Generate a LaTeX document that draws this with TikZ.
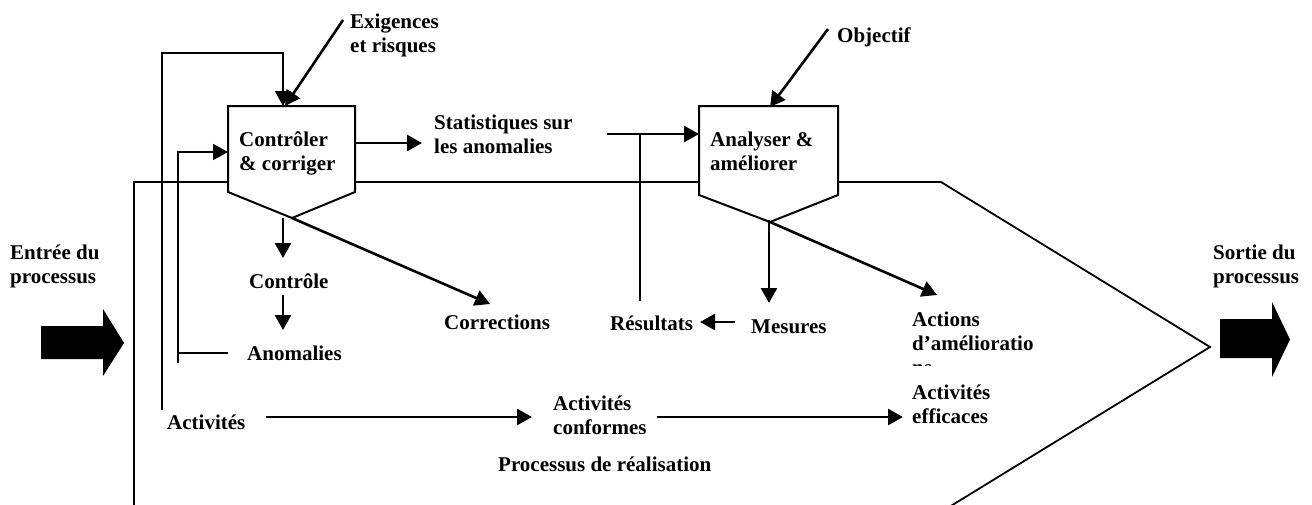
\documentclass[tikz,border=0pt]{standalone}
\usepackage{fontspec}
\setmainfont{Liberation Serif}
\usetikzlibrary{arrows.meta}

\begin{document}
\begin{tikzpicture}[x=1pt,y=-1pt,
  lbl/.style={font=\fontsize{21}{24}\selectfont\bfseries, inner sep=0pt, anchor=base west, align=left},
  arr/.style={line width=2.6pt, -{Triangle[length=15pt,width=16pt]}},
  fb/.style={line width=1.7pt},
  outline/.style={line width=1.8pt},
  boxarea/.style={inner sep=0pt, outer sep=0pt},
  boxline/.style={fill=white, line width=2pt, line join=miter}]

\useasboundingbox (0,0) rectangle (1312,504);

% outline of the realisation process (its lower edge lies below the page)
\begin{scope}
  \clip (0,0) rectangle (1312,504);
  \draw[outline] (134,512) -- (134,182) -- (941,182) -- (1210,347) -- (941,512) -- cycle;
\end{scope}

% the two sub-processes
\node[boxarea, minimum width=127pt, minimum height=86pt] (cc) at (291.5,149) {};
\coordinate (cctip) at (292,218);
\draw[boxline] (cc.north west) -- (cc.north east) -- (cc.south east) -- (cctip) -- (cc.south west) -- cycle;

\node[boxarea, minimum width=139pt, minimum height=89pt] (aa) at (768.5,150.5) {};
\coordinate (aatip) at (770,222);
\draw[boxline] (aa.north west) -- (aa.north east) -- (aa.south east) -- (aatip) -- (aa.south west) -- cycle;

% labels (the base anchor of a two-line label is the baseline of its last line)
\node[lbl] (exig)   at (350,52)  {Exigences\\et risques};
\node[lbl] (obj)    at (837,42)  {Objectif};
\node[lbl] (cctext) at (239,170) {Contrôler\\\& corriger};
\node[lbl] (stat)   at (434,153) {Statistiques sur\\les anomalies};
\node[lbl] (aatext) at (710,170) {Analyser \&\\améliorer};
\node[lbl] (entree) at (10,283)  {Entrée du\\processus};
\node[lbl] (ctrl)   at (249,288) {Contrôle};
\node[lbl] (anom)   at (247,360) {Anomalies};
\node[lbl] (corr)   at (444,329) {Corrections};
\node[lbl] (res)    at (610,330) {Résultats};
\node[lbl] (mes)    at (751,333) {Mesures};
\node[lbl] (actions) at (912,350) {Actions\\d’amélioratio};
% the wrapped end of the word, cut off by its text frame
\begin{scope}
  \clip (905,362) rectangle (960,365.8);
  \node[lbl] (actionsend) at (912,374) {ns};
\end{scope}
\node[lbl] (eff)    at (912,423) {Activités\\efficaces};
\node[lbl] (act)    at (167,429) {Activités};
\node[lbl] (conf)   at (553,434) {Activités\\conformes};
\node[lbl] (proc)   at (498,471) {Processus de réalisation};
\node[lbl] (sortie) at (1213,283) {Sortie du\\processus};

% connector end points
\coordinate (fbA) at (162,410);
\coordinate (fbB) at (283,53);
\coordinate (ccTopA) at (283,106);
\coordinate (exA) at (343,20);
\coordinate (ccTopB) at (285,106);
\coordinate (anA) at (228,353);
\coordinate (anB) at (178,353);
\coordinate (anC) at (178,363);
\coordinate (ccLeft) at (228,152);
\coordinate (ccRight) at (355,143);
\coordinate (statIn) at (422,143);
\coordinate (ccDown) at (283,218);
\coordinate (ctrlIn) at (283,258);
\coordinate (ctrlOut) at (283,295);
\coordinate (anomIn) at (283,330);
\coordinate (corrIn) at (490,304);
\coordinate (statOut) at (607,134);
\coordinate (aaLeft) at (699,134);
\coordinate (resA) at (640,134);
\coordinate (resB) at (640,301);
\coordinate (objA) at (828,29);
\coordinate (aaTop) at (770,107);
\coordinate (aaDown) at (769,220);
\coordinate (mesIn) at (769,303);
\coordinate (actIn) at (937,295);
\coordinate (mesOut) at (735,322);
\coordinate (resIn) at (700,322);
\coordinate (actOut) at (266,417);
\coordinate (confIn) at (532,417);
\coordinate (confOut) at (657,417);
\coordinate (effIn) at (903,417);

% connectors
\draw[arr, line width=2pt] (fbA) |- (fbB) -- (ccTopA);
\draw[arr] (exA) -- (ccTopB);
\draw[fb] (anA) -- (anB);
\draw[arr, line width=2pt] (anC) |- (ccLeft);
\draw[arr] (ccRight) -- (statIn);
\draw[arr] (ccDown) -- (ctrlIn);
\draw[arr] (ctrlOut) -- (anomIn);
\draw[arr] (cctip) -- (corrIn);
\draw[arr] (statOut) -- (aaLeft);
\draw[fb] (resA) -- (resB);
\draw[arr] (objA) -- (aaTop);
\draw[arr] (aaDown) -- (mesIn);
\draw[arr] (aatip) -- (actIn);
\draw[arr] (mesOut) -- (resIn);
\draw[arr] (actOut) -- (confIn);
\draw[arr] (confOut) -- (effIn);

% input and output arrows
\fill (41,326) -- (103,326) -- (103,309) -- (124,343) -- (103,376) -- (103,359) -- (41,359) -- cycle;
\fill (1220,319) -- (1272,319) -- (1272,302) -- (1290,339.5) -- (1272,377) -- (1272,358) -- (1220,358) -- cycle;
\end{tikzpicture}
\end{document}
